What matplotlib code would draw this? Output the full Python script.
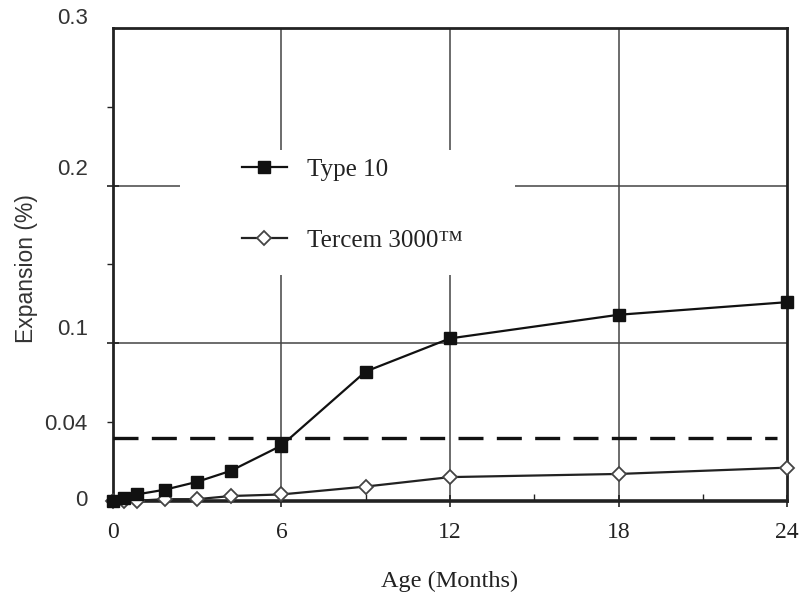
import matplotlib.pyplot as plt
import matplotlib.transforms as mtransforms
from matplotlib.patches import Rectangle
import numpy as np

# data
months = [0, 0.4, 0.85, 1.85, 3, 4.2, 6, 9, 12, 18, 24]
type10 = [0, 0.002, 0.004, 0.007, 0.012, 0.019, 0.035, 0.082, 0.103, 0.118, 0.126]
tercem = [0, 0.0, 0.0, 0.001, 0.001, 0.003, 0.004, 0.009, 0.015, 0.017, 0.021]
limit = 0.04

ytick_pos = [0, 0.05, 0.1, 0.2, 0.3]
ytick_txt = ['0', '0.04', '0.1', '0.2', '0.3']
xticks = [0, 6, 12, 18, 24]

serif = ['Liberation Serif', 'DejaVu Serif']
sans = ['Liberation Sans', 'DejaVu Sans']
ink = '#222222'

fig = plt.figure(figsize=(8, 5.94), dpi=100)
ax = fig.add_axes([0.141, 0.157, 0.843, 0.796])

ax.set_xlim(0, 24)
ax.set_ylim(0, 0.3)

# grid
for x in [6, 12, 18]:
    ax.axvline(x, color='#444444', lw=1.1, zorder=1)
for y in [0.1, 0.2]:
    ax.axhline(y, color='#444444', lw=1.1, zorder=1)

# white block behind the legend
ax.add_patch(Rectangle((0.099, 0.478), 0.497, 0.264, transform=ax.transAxes,
                       facecolor='white', edgecolor='none', zorder=2))

ax.axhline(limit, xmax=0.985, color='#111111', lw=2.4,
           linestyle=(0, (7.5, 4)), zorder=3)

ax.plot(months, type10, '-s', color='#111111', lw=1.6, ms=8.5,
        markerfacecolor='#111111', label='Type 10', zorder=5, clip_on=False)
ax.plot(months, tercem, '-D', color='#222222', lw=1.6, ms=7,
        markerfacecolor='white', markeredgecolor='#444444', markeredgewidth=1.3,
        label='Tercem 3000\u2122', zorder=4, clip_on=False)

# spines
for side, w in [('left', 2.0), ('top', 2.0), ('right', 2.0), ('bottom', 2.6)]:
    ax.spines[side].set_linewidth(w)
    ax.spines[side].set_color(ink)

# x ticks
ax.set_xticks(xticks)
ax.set_xticks([3, 9, 15, 21], minor=True)
ax.tick_params(axis='x', which='major', direction='inout', length=8, width=1.2,
               pad=11, labelsize=17, colors=ink)
ax.tick_params(axis='x', which='minor', direction='in', length=5, width=1.0, colors=ink)
for lab in ax.get_xticklabels():
    lab.set_family(serif)

# y ticks: labels placed by hand, as in the scan they sit above the ticks
ax.set_yticks([0.1, 0.2])
ax.set_yticks([0.05, 0.15, 0.25], minor=True)
ax.set_yticklabels([])
ax.tick_params(axis='y', which='major', direction='inout', length=9, width=1.2, colors=ink)
ax.tick_params(axis='y', which='minor', direction='out', length=4, width=1.0, colors=ink)
ax.tick_params(axis='y', which='both', right=False)

label_shift = {0: 0, 0.05: -3, 0.1: 14, 0.2: 16, 0.3: 9}
trans = mtransforms.blended_transform_factory(ax.transAxes, ax.transData)
for pos, txt in zip(ytick_pos, ytick_txt):
    off = mtransforms.ScaledTranslation(0, label_shift[pos] / 100, fig.dpi_scale_trans)
    ax.text(-0.037, pos, txt, transform=trans + off, ha='right', va='center',
            fontsize=16, family=sans, color='#333333')

ax.set_xlabel('Age (Months)', fontsize=17.5, family=serif, color=ink, labelpad=20)
ax.set_ylabel('Expansion (%)', fontsize=16.5, family=sans, color='#333333')
ax.yaxis.set_label_coords(-0.111, 0.49)

leg = ax.legend(loc='upper left', bbox_to_anchor=(0.158, 0.772), frameon=False,
                prop={'family': serif, 'size': 18}, handlelength=1.8,
                handletextpad=0.8, labelspacing=1.95, labelcolor=ink)
leg.set_zorder(6)

plt.savefig('out.png', dpi=100)
